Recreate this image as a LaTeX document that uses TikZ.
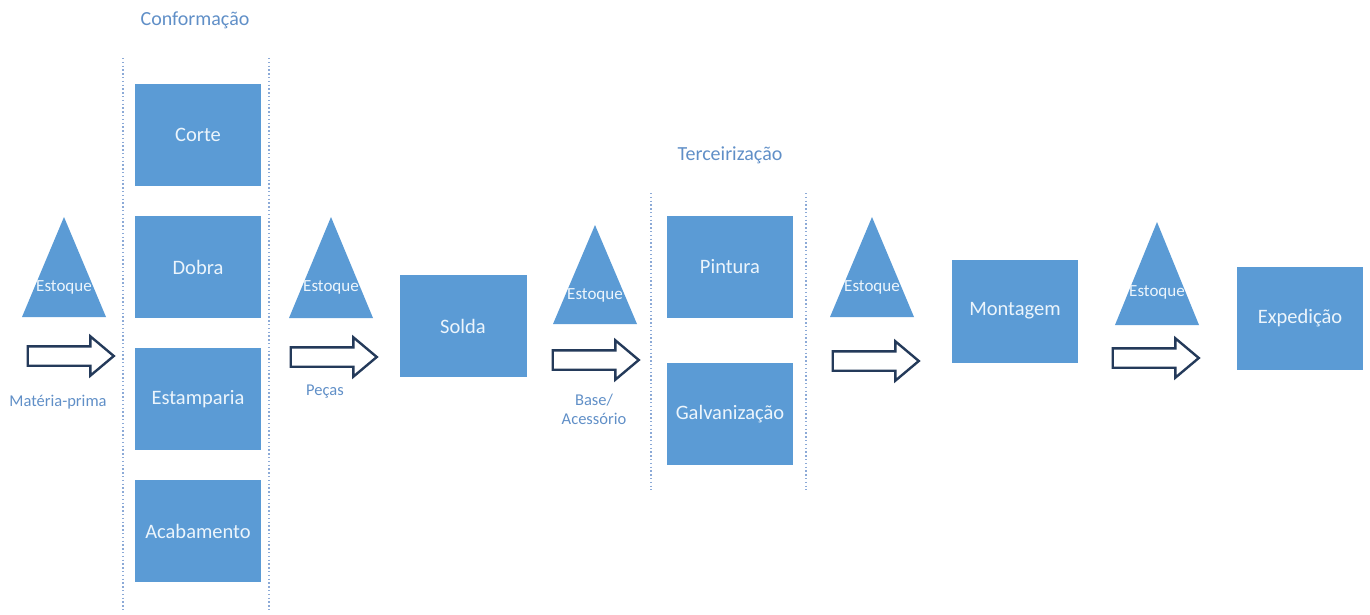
\documentclass[tikz,border=0pt]{standalone}
\usepackage{fontspec}
\setmainfont{Carlito}
\usepackage{tikz}
\usetikzlibrary{shapes.arrows}
\usetikzlibrary{positioning}
\definecolor{boxblue}{RGB}{91,155,213}
\definecolor{labelblue}{RGB}{96,143,199}
\definecolor{laneblue}{RGB}{140,170,215}
\definecolor{arrowline}{RGB}{36,58,90}
\definecolor{boxtext}{RGB}{236,245,252}
\tikzset{
  stepbox/.style={rectangle, fill=boxblue, minimum width=126pt, minimum height=102pt,
    inner sep=0pt, text=boxtext, font=\fontsize{20.5}{24}\selectfont},
  stocktext/.style={text=boxtext, inner sep=0pt, font=\fontsize{17}{20}\selectfont},
  flowlabel/.style={text=labelblue, inner sep=0pt, font=\fontsize{16.5}{19}\selectfont},
  lanetitle/.style={text=labelblue, inner sep=0pt, font=\fontsize{20}{24}\selectfont},
  lane/.style={draw=laneblue, line width=1.4pt, dash pattern=on 1.4pt off 2.4pt},
  flowarrow/.style={single arrow, draw=arrowline, fill=white, line width=2.4pt,
    minimum height=86pt, inner xsep=0pt, inner ysep=8.5pt,
    single arrow head extend=10pt, single arrow tip angle=80}
}

\begin{document}
\begin{tikzpicture}[x=1pt, y=-1pt] % Fluxo de producao

      \useasboundingbox (0,0) rectangle (1370,615);

      % raias
      \node [lanetitle] (conf) at (195,20) {Conformação};
      \draw [lane] (123,58) -- (123,610);
      \draw [lane] (269,58) -- (269,610);
      \node [lanetitle] (terc) at (730,155) {Terceirização};
      \draw [lane] (651,193) -- (651,490);
      \draw [lane] (806,193) -- (806,490);

      % estoques
      \foreach \tx/\ty/\tb [count=\i] in {64/217/317, 331/217/318, 595/225/324, 872/217/317, 1157/222/325} {
        \fill [boxblue] (\tx,\ty) -- (\tx+42,\tb) -- (\tx-42,\tb) -- cycle;
        \node [stocktext] (est\i) at (\tx,\ty+70) {Estoque};
      }

      % etapas
      \node [stepbox] (corte) at (198,135) {Corte};
      \node [stepbox] (dobra) at (198,267) {Dobra};
      \node [stepbox] (estamp) at (198,399) {Estamparia};
      \node [stepbox] (acab) at (198,531) {Acabamento};
      \node [stepbox, minimum width=127pt] (solda) at (463,326) {Solda};
      \node [stepbox] (pint) at (730,267) {Pintura};
      \node [stepbox] (galv) at (730,414) {Galvanização};
      \node [stepbox, minimum height=103pt] (mont) at (1015,311) {Montagem};
      \node [stepbox, minimum height=103pt] (exped) at (1300,318) {Expedição};

      % setas
      \node [flowarrow] (seta1) at (65,356) {};
      \node [flowarrow] (seta2) at (328,357) {};
      \node [flowarrow] (seta3) at (590,360) {};
      \node [flowarrow] (seta4) at (870,361) {};
      \node [flowarrow] (seta5) at (1150,358) {};

      \node [flowlabel] (mp) at (58,402) {Matéria-prima};
      \node [flowlabel] (pecas) at (325,392) {Peças};
      \node [flowlabel, align=center] (base) at (594,409) {Base/\\Acessório};

    \end{tikzpicture}
\end{document}
